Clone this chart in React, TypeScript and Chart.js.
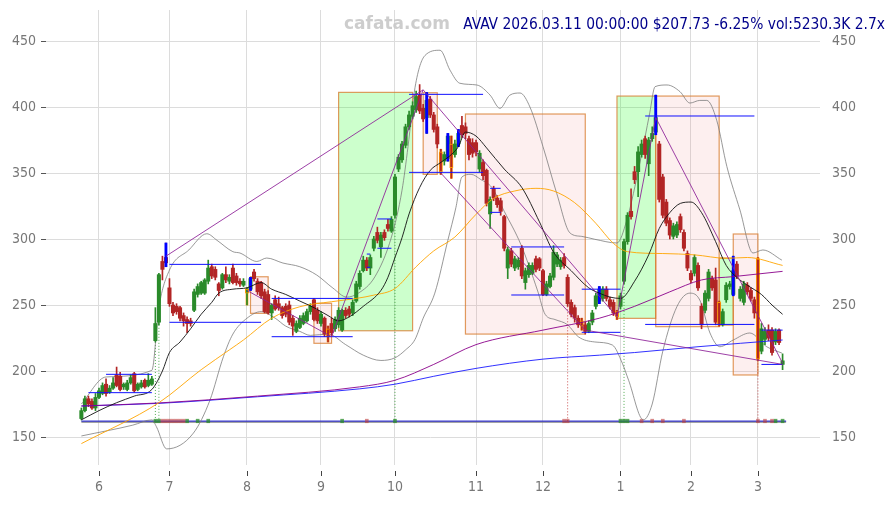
import React, { useEffect, useRef } from 'react';
import { Chart, registerables } from 'chart.js';
Chart.register(...registerables);

// ---- axis ----
const monthIdx = [5, 25, 47, 68, 89, 112, 131, 153, 173, 192];
const monthLabels = ['6', '7', '8', '9', '10', '11', '12', '1', '2', '3'];
const yTicks = [150, 200, 250, 300, 350, 400, 450];

const titleText = 'AVAV 2026.03.11 00:00:00 $207.73 -6.25% vol:5230.3K 2.7x';
const watermark = 'cafata.com';

// ---- daily OHLC (trading-day index 0..199) ----
const opens = [
  164,170,179,177,172,180,183,190,184,187,
  197,196,188,186,191,198,186,188,193,189,
  190,223,237,283,286,263,250,249,248,242,
  239,238,246,258,259,259,268,279,277,266,
  263,273,268,278,272,268,265,259,262,275,
  268,267,260,258,244,254,251,248,249,250,
  240,230,233,236,238,245,254,246,236,240,
  232,236,232,235,231,246,247,244,253,264,
  276,284,278,293,305,294,305,311,306,318,
  353,360,371,385,393,398,409,399,392,406,
  394,385,366,359,361,372,364,372,386,385,
  376,373,373,353,358,352,319,338,331,329,
  317,278,291,278,279,293,267,273,274,285,
  285,276,258,264,271,281,279,286,271,252,
  248,240,238,235,230,237,249,253,255,262,
  254,252,245,249,268,298,321,351,351,364,
  376,357,376,381,372,347,328,314,302,303,
  317,305,289,274,274,280,249,246,255,270,
  269,252,235,254,264,258,281,255,252,265,
  261,254,285,215,224,231,231,222,231,205,
];
const highs = [
  172,181,181,179,183,187,191,194,189,195,
  203,199,191,193,197,199,191,193,194,198,
  196,248,274,287,297,270,252,251,249,244,
  241,240,262,266,268,270,284,281,279,267,
  274,279,273,281,274,270,270,263,271,277,
  270,268,262,261,251,257,256,249,251,253,
  242,238,242,244,247,251,255,248,245,241,
  234,240,241,248,247,248,249,254,268,276,
  287,286,288,302,309,305,307,315,317,349,
  364,374,387,397,404,412,417,402,411,408,
  396,387,368,366,380,378,375,383,393,388,
  378,376,375,367,360,353,332,340,333,331,
  318,294,293,287,286,295,278,282,282,287,
  286,277,268,274,295,290,286,289,273,254,
  250,242,240,237,238,246,259,264,264,264,
  256,254,246,259,300,320,338,355,370,375,
  378,377,385,409,374,349,330,316,312,313,
  319,307,291,276,288,282,251,261,277,272,
  278,253,247,267,268,287,283,264,268,267,
  263,256,286,236,233,235,233,232,232,213,
];
const lows = [
  163,169,173,171,170,179,182,181,183,186,
  188,185,186,185,190,184,185,187,187,188,
  189,222,235,269,279,249,242,243,238,234,
  229,234,245,256,258,258,266,270,269,257,
  262,267,266,266,265,264,264,250,261,268,
  258,255,244,243,239,246,246,240,241,235,
  227,229,232,235,237,243,238,236,234,226,
  222,227,230,233,230,240,241,242,252,262,
  275,276,273,291,297,286,299,306,305,316,
  351,358,369,383,391,396,395,389,380,392,
  381,369,349,356,359,346,362,370,377,376,
  360,362,363,351,345,325,308,329,324,318,
  291,270,279,276,277,270,262,271,273,275,
  276,257,257,263,269,279,277,278,249,241,
  237,233,231,228,229,235,247,251,253,253,
  247,242,239,247,266,296,315,342,332,362,
  361,348,374,379,328,316,310,300,300,301,
  305,291,276,267,272,261,232,244,253,261,
  235,234,234,252,262,257,270,253,250,258,
  253,240,208,213,220,223,212,220,220,201,
];
const closes = [
  170,179,175,172,180,185,189,183,187,191,
  189,186,190,191,195,185,190,191,188,193,
  194,236,273,277,282,251,244,245,240,238,
  236,236,260,264,267,269,278,272,271,261,
  273,269,271,267,267,266,268,262,270,270,
  260,257,245,244,250,247,248,242,243,237,
  234,236,240,242,245,249,239,238,243,228,
  226,229,239,246,246,242,243,252,266,274,
  284,278,286,300,299,303,301,308,315,347,
  362,372,385,394,401,408,397,391,405,394,
  383,372,351,364,378,354,372,380,379,380,
  364,365,366,365,348,327,330,331,326,321,
  293,292,281,285,284,272,276,280,280,277,
  278,258,266,272,290,288,284,280,251,243,
  240,235,234,230,236,244,257,262,262,255,
  249,244,241,257,298,318,317,345,366,372,
  364,375,380,392,330,318,312,303,310,311,
  307,293,278,269,286,263,235,259,275,263,
  237,235,245,265,266,276,272,262,266,260,
  255,244,209,232,230,225,214,230,221.6,207.73,
];

const orangeMarked = [47, 70, 102, 105, 142, 152, 181, 192];
const blueMarked = [24, 48, 98, 104, 107, 147, 163, 185];

// ---- overlay lines: [index, value] ----
const ma20 = [[0,163],[5,170],[10,176],[15,181],[20,186],[23,200],[25,214],[28,222],[31,232],[34,243],[37,252],[39,259],[43,262],[47,263],[51,267],[54,262],[58,258],[62,253],[66,248],[70,242],[73,238],[76,241],[80,249],[85,261],[87,271],[89,286],[91,301],[93,319],[96,339],[99,352],[102,358],[105,364],[107,370],[109,381],[112,378],[115,369],[120,353],[125,339],[130,313],[134,290],[139,276],[144,263],[147,259],[150,256],[153,255],[157,268],[161,288],[164,308],[167,320],[170,327],[173,328],[176,320],[180,298],[183,280],[186,271],[189,265],[193,258],[196,250],[199,243]];
const ma60 = [[0,145],[22,176],[34,201],[42,216],[46,223.5],[54,240],[62,248.7],[71,252.5],[78,255],[83,257.5],[89,262.5],[95,279],[100,291],[106,301.5],[112,318.7],[117,330.8],[123,336.4],[129,338.4],[134,336.4],[140,327.5],[146,311.9],[151,296.7],[155,290.4],[165,289],[174,288],[183,285.4],[189,286],[199,280]];
const ma120 = [[0,173.5],[22,175.8],[50,181],[79,188],[89,193],[100,205],[112,220],[131,231],[147,240],[157,249],[167,260],[176,269],[185,271.5],[199,275.5]];
const ma200 = [[0,173.5],[22,175.5],[50,180.5],[79,186.5],[89,190],[100,196],[112,202],[131,209],[147,212],[157,214],[175,218.4],[199,223.5]];
const bbUpper = [[0,175],[7,195.5],[20,200.5],[22,248],[25,276.5],[30.5,291.7],[35.6,304],[38.5,299],[43,290.4],[45,289.4],[49.8,283],[52.6,285.6],[57.2,281.8],[62,279],[66.8,272.7],[71.4,262.8],[75.3,256],[78.5,258.8],[83.3,271.4],[88,301.5],[91,337],[92.7,370],[94.7,415],[97.5,439],[101.8,443],[104.6,428],[107.4,418],[112.2,416.7],[116,409],[118.8,399],[121.6,409],[124.5,410.6],[127.3,400],[131,370],[134.9,334.6],[138.7,304.5],[142,302],[145.7,299.8],[152,297],[154.8,314.4],[158.5,357.6],[161.3,395.5],[162.8,415.4],[166.2,416.7],[169.9,411.6],[172.7,403],[175.5,405],[177.5,405],[180.3,390],[183.2,354.8],[186.9,322],[190.6,289.4],[193.4,291.7],[198.8,284]];
const bbLower = [[0,150.8],[14.6,159],[20,163],[21.3,157.8],[24.2,141],[31.8,153],[36.5,178],[40.3,210.8],[43,228],[47,240],[51,245],[55,240],[58,234],[62,230],[65,227],[70,228],[75,220],[80,212],[85,208],[89,210],[92,216],[94.7,224],[97,240],[100.3,259],[104,299],[106.3,324],[108,347],[110.6,349],[113.4,345],[116.5,339],[120,321],[124.7,296],[129.5,260.6],[131.6,243],[134.4,239],[138,235],[141,226],[145.7,222],[150.7,219.7],[153.5,206],[155.3,193],[159.5,163],[162,175],[165,215],[169,248.7],[172.7,259],[175.5,253.8],[178.4,228.8],[181.2,218.4],[185,223.5],[189.7,228.8],[194.5,218.4],[198.8,213.6]];

// swing trend lines: [i0, v0, i1, v1]
const trendSegs = [[24,287,97,413],[47,261,71,226],[71,226,97,413],[97,413,152,241],[102,350,143,231],[143,231,199,205],[152,241,163,392],[163,392,199,206]];
// support / resistance: [i0, i1, value]
const levelSegs = [[2,20,183.6],[7,20,197.5],[25,51,280.8],[25,51,236.9],[54,77,255],[54,77,226],[84,88,315.2],[84,88,293],[81,82,288.6],[81,82,278.6],[93,114,409.6],[93,114,350.5],[116,119,338.4],[116,119,320.2],[122,137,294],[122,137,257.6],[142,153,262],[142,153,229.3],[160,191,393.2],[160,191,235.3],[193,199,231],[193,199,205]];
// trend boxes: [i0, i1, low, high]
const upBoxes = [[73,94,230.5,411.1],[152,163,239.9,408.3],[181,185,234.8,285.6]];
const downBoxes = [[48,53,243.7,271.4],[66,71,221,251.3],[97,101,349,410.8],[109,143,228,394.7],[163,181,233.6,408.3],[185,192,197,303.8]];
// signal row
const signalLevel = 162;
const upSignals = [21, 22, 30, 33, 36, 74, 89, 153, 154, 155, 197, 199];
const downSignals = [23, 24, 25, 26, 27, 28, 29, 81, 137, 138, 159, 162, 165, 171, 192, 194, 196];
const upDrops = [[21,222],[22,235],[89,316],[154,266]];
const downDrops = [[138,249],[192,208]];

const GREEN = '#2a8a2a';
const RED = '#b22525';
const ORANGE = '#ff9a00';
const FONT = '"DejaVu Sans Condensed", "DejaVu Sans", sans-serif';

const pts = (arr: number[][]) => arr.map(([x, y]) => ({ x, y }));
const segData = (segs: number[][]) => {
  const out: any[] = [];
  segs.forEach(([a, b, c, d]) => { out.push({ x: a, y: b }, { x: c, y: d }, { x: c, y: null }); });
  return out;
};
const levelData = (segs: number[][]) => {
  const out: any[] = [];
  segs.forEach(([a, b, v]) => { out.push({ x: a, y: v }, { x: b, y: v }, { x: b, y: null }); });
  return out;
};
const dropData = (drops: number[][]) => {
  const out: any[] = [];
  drops.forEach(([i, v]) => { out.push({ x: i, y: v }, { x: i, y: signalLevel }, { x: i, y: null }); });
  return out;
};

const boxPlugin = {
  id: 'boxes',
  beforeDatasetsDraw(chart: any) {
    const { ctx, scales } = chart;
    const xs = scales.x, ys = scales.y;
    const draw = (b: number[], fill: string) => {
      const x0 = xs.getPixelForValue(b[0]);
      const x1 = xs.getPixelForValue(b[1]);
      const y0 = ys.getPixelForValue(b[3]);
      const y1 = ys.getPixelForValue(b[2]);
      ctx.fillStyle = fill;
      ctx.fillRect(x0, y0, x1 - x0, y1 - y0);
      ctx.strokeStyle = 'rgba(215,120,40,0.75)';
      ctx.lineWidth = 1.2;
      ctx.strokeRect(x0, y0, x1 - x0, y1 - y0);
    };
    ctx.save();
    upBoxes.forEach((b) => draw(b, 'rgba(0,255,0,0.2)'));
    downBoxes.forEach((b) => draw(b, 'rgba(240,128,128,0.13)'));
    ctx.restore();
  },
};

const textPlugin = {
  id: 'texts',
  afterDraw(chart: any) {
    const ctx = chart.ctx;
    const xs = chart.scales.x;
    const bottom = chart.chartArea.bottom;
    ctx.save();
    // x tick marks, set slightly below the plot area
    ctx.strokeStyle = '#444';
    ctx.lineWidth = 1;
    monthIdx.forEach((v) => {
      const px = Math.round(xs.getPixelForValue(v)) + 0.5;
      ctx.beginPath();
      ctx.moveTo(px, bottom + 6);
      ctx.lineTo(px, bottom + 11);
      ctx.stroke();
    });
    ctx.textBaseline = 'middle';
    ctx.font = 'bold 17px "DejaVu Sans"';
    ctx.fillStyle = 'rgba(200,200,200,0.9)';
    ctx.textAlign = 'center';
    ctx.fillText(watermark, 397, 25);
    ctx.font = '14px ' + FONT;
    const w = ctx.measureText(titleText).width;
    const size = Math.min(16, (14 * 422) / w);
    ctx.font = size.toFixed(2) + 'px ' + FONT;
    ctx.fillStyle = '#00008b';
    ctx.textAlign = 'right';
    ctx.fillText(titleText, 885, 25);
    ctx.restore();
  },
};

const noPad = (s: any) => { s.paddingTop = 0; s.paddingBottom = 0; };

export default function App() {
  const ref = useRef<HTMLCanvasElement | null>(null);
  useEffect(() => {
    document.body.style.margin = '0';
    const idx = opens.map((_, i) => i);
    const up = (i: number) => closes[i] >= opens[i];
    const lineDs = (label: string, data: any[], color: string, width: number, order: number, extra: any = {}) => ({
      type: 'line', label, data, borderColor: color, borderWidth: width, pointRadius: 0,
      fill: false, order, spanGaps: false, ...extra,
    });
    const chart = new Chart(ref.current as HTMLCanvasElement, {
      type: 'bar',
      data: {
        datasets: [
          lineDs('sigBase', [{ x: 0, y: signalLevel - 0.6 }, { x: 200, y: signalLevel - 0.6 }], 'rgba(120,120,120,0.9)', 1.5, 30),
          lineDs('sigLine', [{ x: 0, y: signalLevel }, { x: 200, y: signalLevel }], 'rgba(40,40,210,0.9)', 1.2, 29),
          {
            type: 'bar', label: 'upSig', data: upSignals.map((i) => ({ x: i, y: [signalLevel - 1.2, signalLevel + 1.5] })),
            backgroundColor: 'rgba(40,140,40,0.75)', barThickness: 3, grouped: false, order: 28,
          },
          {
            type: 'bar', label: 'downSig', data: downSignals.map((i) => ({ x: i, y: [signalLevel - 1.2, signalLevel + 1.5] })),
            backgroundColor: 'rgba(190,60,60,0.6)', barThickness: 3, grouped: false, order: 27,
          },
          lineDs('upDrops', dropData(upDrops), 'rgba(40,150,40,0.8)', 1, 26, { borderDash: [1, 2] }),
          lineDs('downDrops', dropData(downDrops), 'rgba(190,40,40,0.8)', 1, 26, { borderDash: [1, 2] }),
          lineDs('bbUpper', pts(bbUpper), 'rgba(120,120,120,0.85)', 0.9, 25, { cubicInterpolationMode: 'monotone' }),
          lineDs('bbLower', pts(bbLower), 'rgba(120,120,120,0.85)', 0.9, 25, { cubicInterpolationMode: 'monotone' }),
          {
            type: 'bar', label: 'orangeMark', data: orangeMarked.map((i) => ({ x: i, y: [lows[i], highs[i]] })),
            backgroundColor: ORANGE, barThickness: 2, grouped: false, order: 22,
          },
          {
            type: 'bar', label: 'wicks', data: idx.map((i) => ({ x: i, y: [lows[i], highs[i]] })),
            backgroundColor: idx.map((i) => (up(i) ? GREEN : RED)), barThickness: 1, grouped: false, order: 21,
          },
          {
            type: 'bar', label: 'bodies', data: idx.map((i) => ({ x: i, y: [opens[i], closes[i]] })),
            backgroundColor: idx.map((i) => (up(i) ? GREEN : RED)),
            borderColor: idx.map((i) => (orangeMarked.includes(i) ? ORANGE : 'rgba(0,0,0,0)')),
            borderWidth: idx.map((i) => (orangeMarked.includes(i) ? 1 : 0)),
            borderSkipped: false, barThickness: 3.4, grouped: false, order: 20,
          },
          {
            type: 'bar', label: 'blueMark', data: blueMarked.map((i) => ({ x: i, y: [lows[i], highs[i]] })),
            backgroundColor: '#0000ff', barThickness: 2.2, grouped: false, order: 19,
          },
          lineDs('ma200', pts(ma200), '#1a1aff', 0.9, 15, { cubicInterpolationMode: 'monotone' }),
          lineDs('ma120', pts(ma120), '#8a008a', 0.9, 14, { cubicInterpolationMode: 'monotone' }),
          lineDs('ma60', pts(ma60), '#ffa500', 0.9, 13, { cubicInterpolationMode: 'monotone' }),
          lineDs('ma20', pts(ma20), '#111111', 0.9, 12, { cubicInterpolationMode: 'monotone' }),
          lineDs('levels', levelData(levelSegs), '#1010ff', 1, 11),
          lineDs('trend', segData(trendSegs), 'rgba(140,30,150,0.85)', 1, 10),
        ] as any,
      },
      options: {
        animation: false,
        responsive: false,
        devicePixelRatio: 1,
        layout: { padding: { top: 10, left: 0, right: 0, bottom: 0 } },
        plugins: { legend: { display: false }, tooltip: { enabled: false }, title: { display: false } },
        scales: {
          x: {
            type: 'linear', min: -10.04, max: 208.2, offset: false,
            afterBuildTicks: (s: any) => { s.ticks = monthIdx.map((v) => ({ value: v })); },
            afterFit: (s: any) => { s.height = 40; s.paddingLeft = 0; s.paddingRight = 0; },
            ticks: {
              callback: (v: any) => { const k = monthIdx.indexOf(v); return k >= 0 ? monthLabels[k] : ''; },
              color: '#777', font: { size: 14, family: FONT }, padding: 8, maxRotation: 0, autoSkip: false,
            },
            grid: { offset: false, color: '#dcdcdc', tickColor: 'rgba(0,0,0,0)', tickLength: 6, lineWidth: 1 },
            border: { display: false },
          },
          y: {
            type: 'linear', position: 'left', min: 128.8, max: 473.5,
            afterBuildTicks: (s: any) => { s.ticks = yTicks.map((v) => ({ value: v })); },
            afterFit: (s: any) => { s.width = 46; noPad(s); },
            ticks: { color: '#777', font: { size: 14, family: FONT }, padding: 5 },
            grid: { color: '#dcdcdc', tickColor: '#555', tickLength: 5 },
            border: { display: false },
          },
          y2: {
            type: 'linear', position: 'right', min: 128.8, max: 473.5,
            afterBuildTicks: (s: any) => { s.ticks = yTicks.map((v) => ({ value: v })); },
            afterFit: (s: any) => { s.width = 78; noPad(s); },
            ticks: { color: '#777', font: { size: 14, family: FONT }, padding: 12 },
            grid: { drawOnChartArea: false, tickColor: '#dcdcdc', tickLength: 5 },
            border: { display: false },
          },
        },
      } as any,
      plugins: [boxPlugin, textPlugin],
    });
    return () => chart.destroy();
  }, []);
  return (
    <div style={{ width: 893, height: 505, background: '#fff' }}>
      <canvas ref={ref} width={893} height={505} style={{ display: 'block' }} />
    </div>
  );
}
